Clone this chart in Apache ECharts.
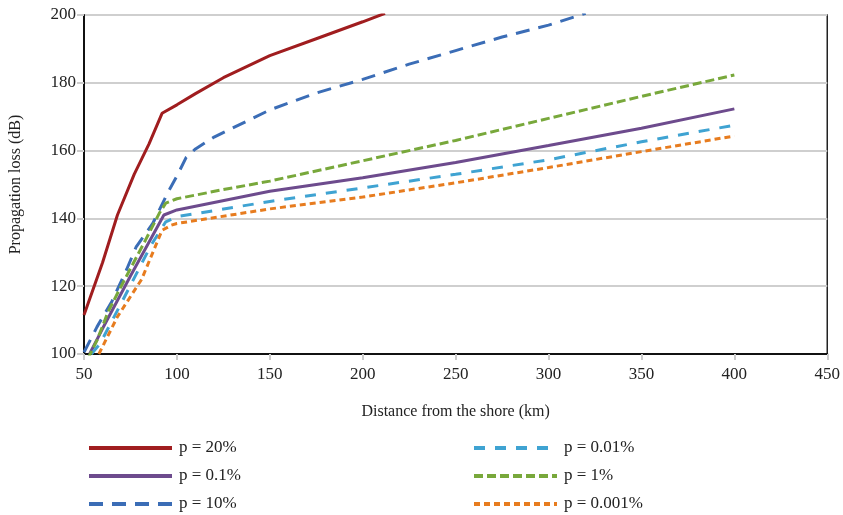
<!DOCTYPE html>
<html>
<head>
<meta charset="utf-8">
<script src="https://cdn.jsdelivr.net/npm/echarts@6/dist/echarts.min.js"></script>
<style>html,body{margin:0;padding:0;background:#fff}#c{width:843px;height:515px}</style>
</head>
<body>
<div id="c"></div>
<script>
// Distance (km) and propagation loss (dB)
const x20 = [50, 60, 68, 77, 85, 92, 100, 110, 125, 150, 175, 200, 212];
const y20 = [111.5, 127, 141, 153, 162, 171, 173.5, 176.8, 181.5, 188, 193, 198, 200.5];

const x01 = [53, 60, 75, 93, 100, 150, 200, 250, 300, 350, 400];
const y01 = [100, 107.5, 123, 141, 142.5, 148, 152, 156.5, 161.5, 166.6, 172.3];

const x10 = [50, 57, 65, 73, 78, 87, 95, 100, 105, 110, 120, 150, 175, 200, 225, 250, 275, 300, 320];
const y10 = [100.5, 108, 115.5, 125, 131.5, 138.5, 147.5, 152.5, 158, 160.5, 164, 172, 177, 181, 185.5, 189.5, 193.5, 197, 200.5];

const x001 = [54, 58.6, 71, 86, 94, 100, 150, 200, 250, 300, 350, 400];
const y001 = [100, 103, 116, 132, 139, 140.5, 145, 149, 153, 157.3, 162.6, 167.5];

const x1 = [52, 57, 63, 70, 83, 90.5, 94, 100, 125, 150, 200, 250, 300, 350, 400];
const y1 = [98.5, 104, 112.5, 120, 133.5, 141.5, 144.5, 145.8, 148.5, 151, 157, 163, 169.5, 176, 182.3];

const x0001 = [58, 68, 81, 92, 97, 100, 150, 200, 250, 300, 350, 400];
const y0001 = [100, 111, 122, 136.5, 138, 138.5, 142.8, 146.3, 150.5, 155, 159.7, 164.3];

const names = ['p = 20%', 'p = 0.1%', 'p = 10%', 'p = 0.01%', 'p = 1%', 'p = 0.001%'];
const xTicks = [50, 100, 150, 200, 250, 300, 350, 400, 450];
const yTicks = [100, 120, 140, 160, 180, 200];

function pairs(xs, ys) { return xs.map((x, i) => [x, ys[i]]); }

const FONT = '"Liberation Serif", "DejaVu Serif", serif';

const seriesDefs = [
  { name: names[0], data: pairs(x20, y20), color: '#a01d1f', type: 'solid' },
  { name: names[1], data: pairs(x01, y01), color: '#6d4b8d', type: 'solid' },
  { name: names[2], data: pairs(x10, y10), color: '#3b6db6', type: [14, 9] },
  { name: names[3], data: pairs(x001, y001), color: '#3fa3d2', type: [11, 10] },
  { name: names[4], data: pairs(x1, y1), color: '#78a83b', type: [9, 4] },
  { name: names[5], data: pairs(x0001, y0001), color: '#e77c1f', type: [6, 4] }
];

const legendCommon = {
  orient: 'vertical', top: 434, height: 80,
  itemWidth: 83, itemHeight: 14, itemGap: 10,
  itemStyle: { opacity: 0 },
  lineStyle: { width: 4 },
  textStyle: { fontFamily: FONT, fontSize: 17, lineHeight: 18, color: '#222', padding: [0, 0, 0, 2] }
};

const chart = echarts.init(document.getElementById('c'), null, { renderer: 'canvas' });
chart.setOption({
  animation: false,
  backgroundColor: '#fff',
  textStyle: { fontFamily: FONT },
  grid: { left: 79, right: 13, top: 15, bottom: 161, show: true, borderColor: '#222', borderWidth: 1.5, backgroundColor: 'transparent' },
  legend: [
    Object.assign({}, legendCommon, { data: names.slice(0, 3), left: 82 }),
    Object.assign({}, legendCommon, { data: names.slice(3), left: 467 })
  ],
  xAxis: {
    type: 'value', min: xTicks[0], max: xTicks[xTicks.length - 1], interval: 50,
    name: 'Distance from the shore (km)', nameLocation: 'middle', nameGap: 50,
    nameTextStyle: { fontFamily: FONT, fontSize: 16, color: '#222' },
    axisLine: { show: true, lineStyle: { color: '#111', width: 2 } },
    axisTick: { show: true, length: 6, lineStyle: { color: '#ccc', width: 2 } },
    axisLabel: { fontFamily: FONT, fontSize: 17, color: '#222', margin: 12 },
    splitLine: { show: false }
  },
  yAxis: {
    type: 'value', min: yTicks[0], max: yTicks[yTicks.length - 1], interval: 20,
    name: 'Propagation loss (dB)', nameLocation: 'middle', nameGap: 60, nameRotate: 90,
    nameTextStyle: { fontFamily: FONT, fontSize: 16, color: '#222' },
    axisLine: { show: true, lineStyle: { color: '#111', width: 2 } },
    axisTick: { show: true, length: 7, lineStyle: { color: '#ccc', width: 2 } },
    axisLabel: { fontFamily: FONT, fontSize: 17, color: '#222', margin: 8 },
    splitLine: { show: true, lineStyle: { color: '#cfcfcf', width: 2 } }
  },
  series: seriesDefs.map(s => ({
    name: s.name, type: 'line', data: s.data, symbol: 'none', smooth: false, clip: true,
    color: s.color,
    lineStyle: { color: s.color, width: 3, type: s.type }
  }))
});
</script>
</body>
</html>
